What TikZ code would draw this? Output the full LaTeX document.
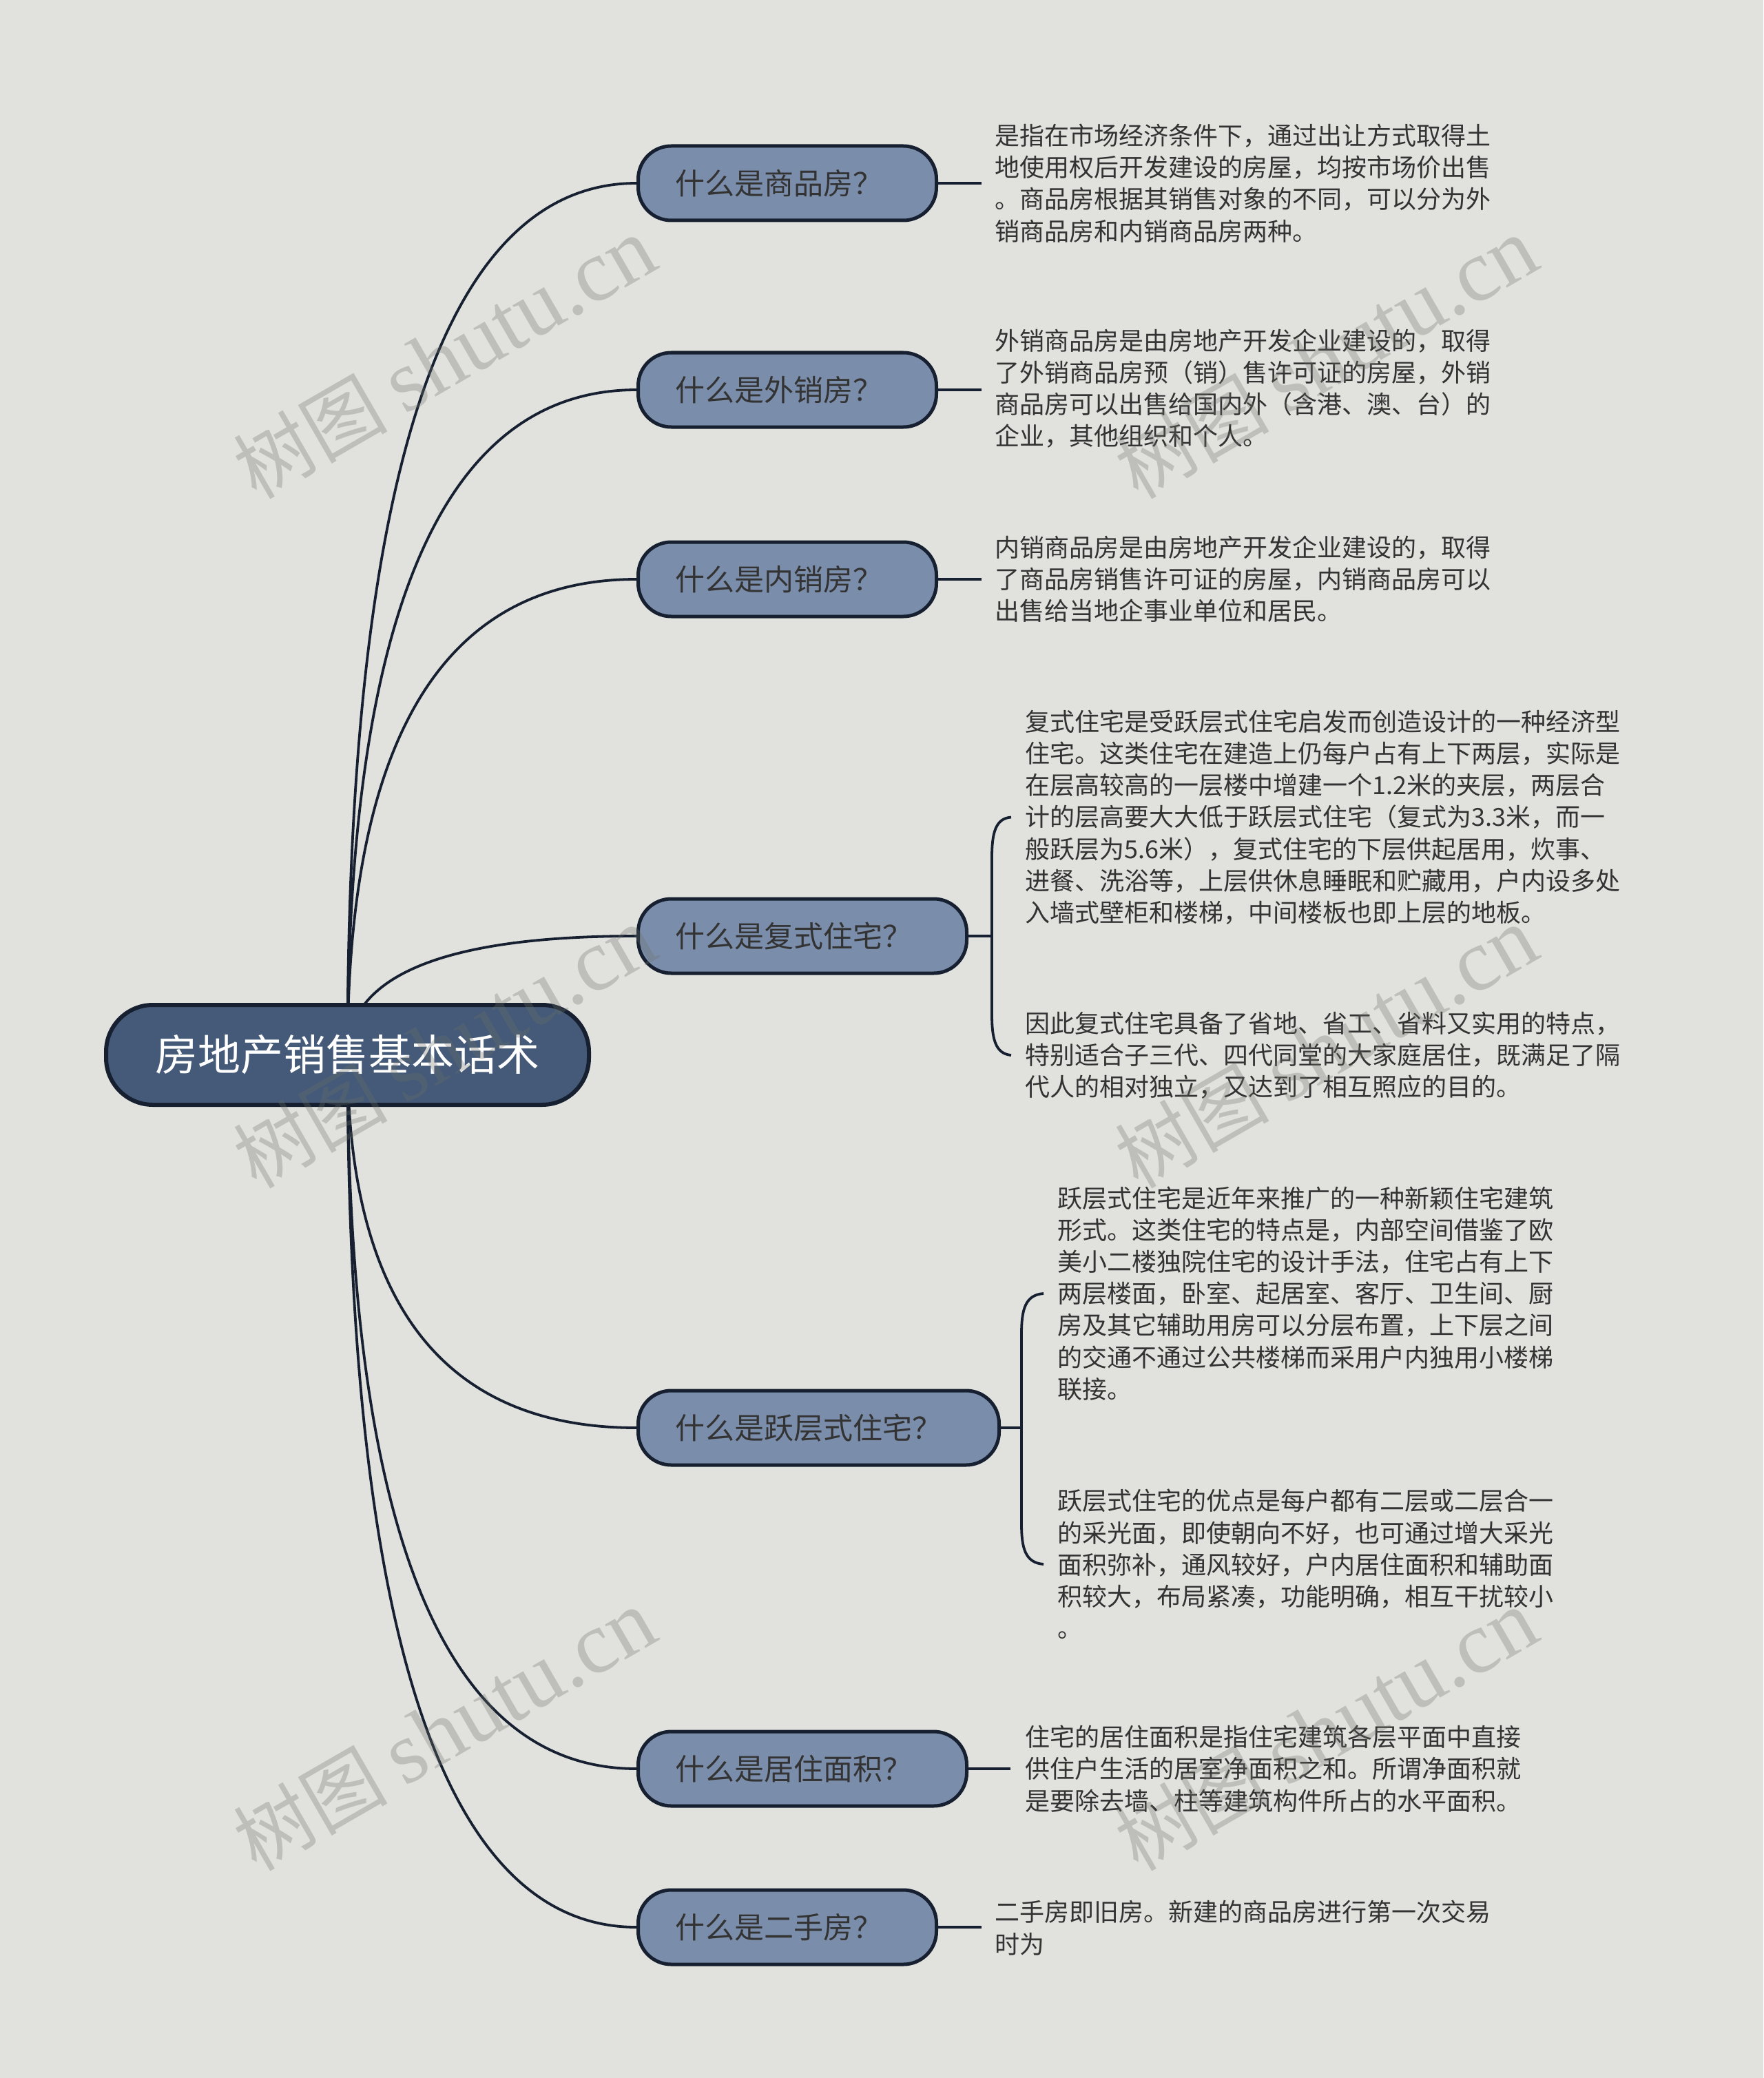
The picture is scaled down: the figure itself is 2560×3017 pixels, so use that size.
\documentclass[tikz,border=0pt]{standalone}
\usepackage{fontspec}
\newfontfamily\cjk{Noto Sans CJK SC}
\newfontfamily\wmlat{Liberation Serif}
\usetikzlibrary{calc,backgrounds}
\definecolor{bgc}{RGB}{225,226,222}
\definecolor{rootc}{RGB}{68,90,120}
\definecolor{brc}{RGB}{122,141,171}
\definecolor{bordc}{RGB}{22,32,48}
\definecolor{txtc}{RGB}{51,51,51}
\definecolor{wmc}{RGB}{110,112,105}
\begin{document}
\begin{tikzpicture}[x=0.5pt,y=-0.5pt,
  rootbox/.style={draw=bordc, fill=rootc, line width=3pt, rounded corners=34pt,
    minimum width=350.5pt, minimum height=72.5pt, inner sep=0pt,
    font=\cjk\fontsize{31}{36}\selectfont, text=white},
  branchbox/.style={draw=bordc, fill=brc, line width=2.5pt, rounded corners=24pt,
    minimum height=54pt, inner xsep=27pt, inner ysep=0pt, align=left,
    font=\cjk\fontsize{21.5}{26}\selectfont, text=txtc, anchor=west},
  desc/.style={align=left, inner sep=0pt, anchor=west,
    font=\cjk\fontsize{18}{23.1}\selectfont, text=txtc},
  conn/.style={draw=bordc, line width=1.9pt},
  wm/.style={text=wmc, opacity=0.3, rotate=30, inner sep=0pt}
]
\useasboundingbox (0,0) rectangle (2560,3017);

% root
\node[rootbox] (root) at (504.5,1531.5) {房地产销售基本话术};

% branches
\node[branchbox, text width=162.5pt] (b1) at (924,266) {什么是商品房？};
\node[branchbox, text width=162.5pt] (b2) at (924,566) {什么是外销房？};
\node[branchbox, text width=162.5pt] (b3) at (924,841) {什么是内销房？};
\node[branchbox, text width=184.5pt] (b4) at (924,1359) {什么是复式住宅？};
\node[branchbox, text width=208pt] (b5) at (924,2073) {什么是跃层式住宅？};
\node[branchbox, text width=184.5pt] (b6) at (924,2568) {什么是居住面积？};
\node[branchbox, text width=162.5pt] (b7) at (924,2798) {什么是二手房？};

% descriptions
\node[desc] (d1) at (1444,266) {是指在市场经济条件下，通过出让方式取得土\\地使用权后开发建设的房屋，均按市场价出售\\。商品房根据其销售对象的不同，可以分为外\\销商品房和内销商品房两种。};
\node[desc] (d2) at (1444,564) {外销商品房是由房地产开发企业建设的，取得\\了外销商品房预（销）售许可证的房屋，外销\\商品房可以出售给国内外（含港、澳、台）的\\企业，其他组织和个人。};
\node[desc] (d3) at (1444,841) {内销商品房是由房地产开发企业建设的，取得\\了商品房销售许可证的房屋，内销商品房可以\\出售给当地企事业单位和居民。};
\node[desc] (d4a) at (1488,1186.5) {复式住宅是受跃层式住宅启发而创造设计的一种经济型\\住宅。这类住宅在建造上仍每户占有上下两层，实际是\\在层高较高的一层楼中增建一个1.2米的夹层，两层合\\计的层高要大大低于跃层式住宅（复式为3.3米，而一\\般跃层为5.6米），复式住宅的下层供起居用，炊事、\\进餐、洗浴等，上层供休息睡眠和贮藏用，户内设多处\\入墙式壁柜和楼梯，中间楼板也即上层的地板。};
\node[desc] (d4b) at (1488,1532) {因此复式住宅具备了省地、省工、省料又实用的特点，\\特别适合子三代、四代同堂的大家庭居住，既满足了隔\\代人的相对独立，又达到了相互照应的目的。};
\node[desc] (d5a) at (1535,1878) {跃层式住宅是近年来推广的一种新颖住宅建筑\\形式。这类住宅的特点是，内部空间借鉴了欧\\美小二楼独院住宅的设计手法，住宅占有上下\\两层楼面，卧室、起居室、客厅、卫生间、厨\\房及其它辅助用房可以分层布置，上下层之间\\的交通不通过公共楼梯而采用户内独用小楼梯\\联接。};
\node[desc] (d5b) at (1535,2271) {跃层式住宅的优点是每户都有二层或二层合一\\的采光面，即使朝向不好，也可通过增大采光\\面积弥补，通风较好，户内居住面积和辅助面\\积较大，布局紧凑，功能明确，相互干扰较小\\。};
\node[desc] (d6) at (1488,2568) {住宅的居住面积是指住宅建筑各层平面中直接\\供住户生活的居室净面积之和。所谓净面积就\\是要除去墙、柱等建筑构件所占的水平面积。};
\node[desc] (d7) at (1444,2799) {二手房即旧房。新建的商品房进行第一次交易\\时为};

% background and root connectors
\begin{pgfonlayer}{background}
  \fill[bgc] (0,0) rectangle (2560,3017);
  \foreach \b in {b1,b2,b3,b4,b5,b6,b7}{
    \draw[conn] (root.center) .. controls ($(root.center)!0.6667!(root.center |- \b.west)$)
      and ($(\b.west)!0.6667!(root.center |- \b.west)$) .. (\b.west);
  }
\end{pgfonlayer}

% single connectors
\draw[conn] (b1.east) -- ($(b1.east -| d1.west)+(-19,0)$);
\draw[conn] (b2.east) -- ($(b2.east -| d2.west)+(-19,0)$);
\draw[conn] (b3.east) -- ($(b3.east -| d3.west)+(-19,0)$);
\draw[conn] (b6.east) -- ($(b6.east -| d6.west)+(-21,0)$);
\draw[conn] (b7.east) -- ($(b7.east -| d7.west)+(-19,0)$);

% bracket for b4
\coordinate (k4) at (1440,1359);
\draw[conn] (b4.east) -- (k4);
\draw[conn] ($(d4a.west)+(-20,0)$) .. controls (1445,1188) and (1440,1210) .. (1440,1245)
  -- (1440,1473) .. controls (1440,1508) and (1445,1530) .. ($(d4b.west)+(-20,0)$);

% bracket for b5
\coordinate (k5) at (1483,2073);
\draw[conn] (b5.east) -- (k5);
\draw[conn] ($(d5a.west)+(-20,0)$) .. controls (1488,1880) and (1483,1902) .. (1483,1937)
  -- (1483,2212) .. controls (1483,2247) and (1488,2269) .. ($(d5b.west)+(-20,0)$);

% watermarks
\foreach \wx/\wy [count=\i] in {645/520, 1925/520, 645/1521, 1925/1521, 645/2512, 1925/2512}{
  \node[wm] (wm\i) at (\wx,\wy) {\cjk\fontsize{56}{60}\selectfont 树图 \wmlat\fontsize{64}{60}\selectfont shutu.cn};
}
\end{tikzpicture}
\end{document}
